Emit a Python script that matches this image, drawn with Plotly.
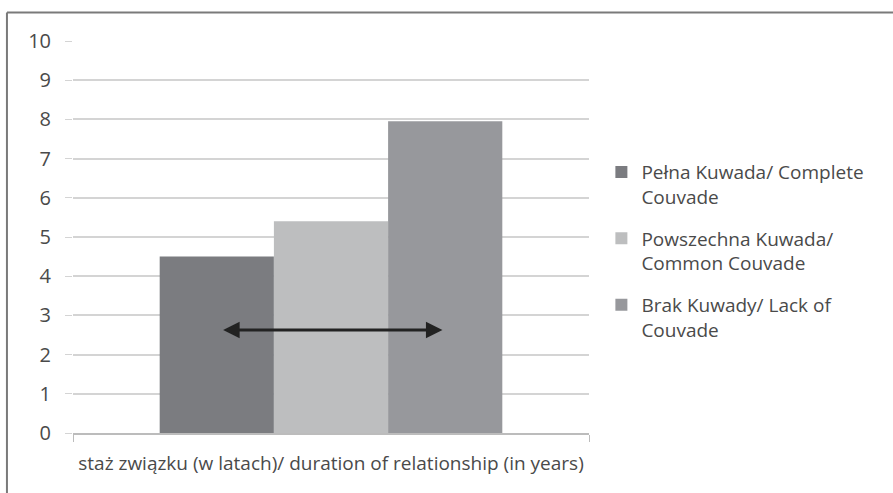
import plotly.graph_objects as go

# Category on the x axis and the three groups compared
category = ["staż związku (w latach)/ duration of relationship (in years)"]
series_names = [
    "Pełna Kuwada/ Complete<br>Couvade",
    "Powszechna Kuwada/<br>Common Couvade",
    "Brak Kuwady/ Lack of<br>Couvade",
]
series_values = [4.5, 5.4, 7.95]
series_colors = ["#7b7c80", "#bdbebf", "#97989c"]
y_ticks = list(range(0, 11))

FONT = "Open Sans, DejaVu Sans, sans-serif"
TEXT = "#4a4a4a"

fig = go.Figure()
for i, (name, val, col) in enumerate(zip(series_names, series_values, series_colors)):
    fig.add_trace(go.Bar(
        x=category, y=[val], name=name, marker=dict(color=col, line=dict(width=0)),
        legendgroup=f"g{i}",
    ))

# double-headed arrow spanning the bars
fig.add_annotation(
    x=0.216, y=2.63, ax=-0.212, ay=2.63, xref="x", yref="y", axref="x", ayref="y",
    text="", showarrow=True, arrowhead=2, arrowside="end+start", arrowsize=1.1,
    arrowwidth=3, arrowcolor="#222222",
)

# frame lines along the top and left edges
fig.add_shape(type="line", xref="paper", yref="paper", x0=-0.128, x1=1.6, y0=1.0727, y1=1.0727,
              line=dict(color="#7a7a7a", width=2))
fig.add_shape(type="line", xref="paper", yref="paper", x0=-0.128, x1=-0.128, y0=-0.2, y1=1.0727,
              line=dict(color="#7a7a7a", width=2))

fig.update_layout(
    width=893, height=493,
    margin=dict(l=73, r=304, t=41, b=60),
    paper_bgcolor="white", plot_bgcolor="white",
    barmode="group", bargap=0.336, bargroupgap=0,
    font=dict(family=FONT, size=19, color=TEXT),
    showlegend=True,
    legend=dict(x=1.024, y=0.464, xanchor="left", yanchor="middle", valign="top",
                font=dict(family=FONT, size=19, color=TEXT),
                tracegroupgap=14, bgcolor="rgba(0,0,0,0)"),
    xaxis=dict(
        showgrid=False, showline=True, linecolor="#bcbcbc", linewidth=1.5,
        ticks="outside", tickson="boundaries", ticklen=7, tickcolor="#bcbcbc",
        tickfont=dict(family=FONT, size=19, color=TEXT), ticklabelstandoff=12,
    ),
    yaxis=dict(
        range=[0, 10], tickvals=y_ticks, showgrid=True, gridcolor="#d4d4d4", gridwidth=1.5,
        showline=False, zeroline=False, ticks="outside", ticklen=7, tickcolor="#d4d4d4",
        tickfont=dict(family=FONT, size=20, color=TEXT), ticklabelstandoff=10,
    ),
)

fig.write_html("out.html")
